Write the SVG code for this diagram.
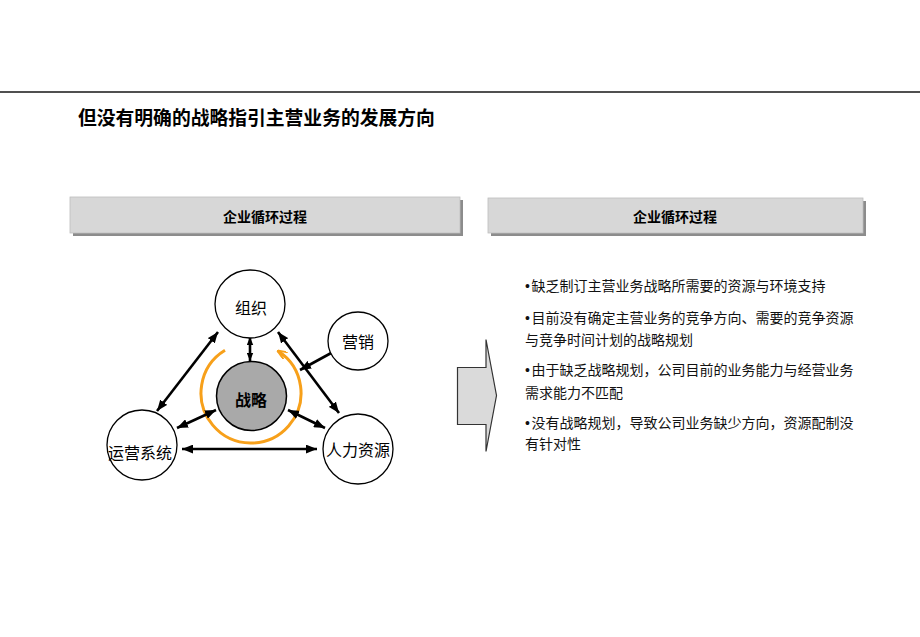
<svg xmlns="http://www.w3.org/2000/svg" width="920" height="637" viewBox="0 0 920 637">
<style>
.cjk{font-family:"Noto Sans CJK SC","Liberation Sans",sans-serif;}
.title{font-size:18.8px;font-weight:bold;fill:#000;}
.hdr{font-size:14px;font-weight:bold;fill:#000;text-anchor:middle;}
.lbl{font-size:16px;fill:#000;text-anchor:middle;}
.bul{font-size:14px;fill:#111;}
.dot{font-family:"Liberation Sans",sans-serif;}
.node{fill:#fff;stroke:#000;stroke-width:1.3;}
.arr{stroke:#000;stroke-width:2.6;fill:none;}
</style>
<defs>
<marker id="ah" viewBox="0 0 10 8" refX="10" refY="4" markerWidth="11" markerHeight="9" markerUnits="userSpaceOnUse" orient="auto-start-reverse">
<path d="M0,0 L10,4 L0,8 Z" fill="#000"/>
</marker>
<marker id="ahs" viewBox="0 0 10 8" refX="10" refY="4" markerWidth="8" markerHeight="7" markerUnits="userSpaceOnUse" orient="auto-start-reverse">
<path d="M0,0 L10,4 L0,8 Z" fill="#000"/>
</marker>
<marker id="aho" viewBox="0 0 10 8" refX="9" refY="4" markerWidth="10" markerHeight="8" markerUnits="userSpaceOnUse" orient="auto">
<path d="M0,0 L10,4 L0,8" fill="none" stroke="#f7a01a" stroke-width="2"/>
</marker>
</defs>
<rect width="920" height="637" fill="#fff"/>
<line x1="0" y1="92" x2="920" y2="92" stroke="#505050" stroke-width="2"/>
<text class="cjk title" x="78" y="125">但没有明确的战略指引主营业务的发展方向</text>

<g id="header-left">
<rect x="73" y="200" width="390" height="36" fill="#8c8c8c"/>
<rect x="70" y="197" width="390" height="36" fill="#d7d7d7" stroke="#bdbdbd" stroke-width="0.8"/>
<text class="cjk hdr" x="265" y="222">企业循环过程</text>
</g>
<g id="header-right">
<rect x="491" y="201" width="375" height="35" fill="#8c8c8c"/>
<rect x="488" y="198" width="375" height="35" fill="#d7d7d7" stroke="#bdbdbd" stroke-width="0.8"/>
<text class="cjk hdr" x="675" y="222">企业循环过程</text>
</g>

<g id="cycle">
<path d="M225,350.3 A50,50 0 1 0 278,350.9" fill="none" stroke="#f7a01a" stroke-width="3" marker-end="url(#aho)"/>
</g>

<g id="connectors">
<line class="arr" x1="218" y1="332" x2="157" y2="411" marker-start="url(#ah)" marker-end="url(#ah)"/>
<line class="arr" x1="250" y1="337" x2="250" y2="361" stroke-width="2" marker-start="url(#ahs)" marker-end="url(#ahs)"/>
<line class="arr" x1="278" y1="332" x2="339" y2="413" marker-start="url(#ah)" marker-end="url(#ah)"/>
<line class="arr" x1="333" y1="352" x2="300" y2="370" marker-end="url(#ah)"/>
<line class="arr" x1="216" y1="410" x2="177" y2="428" marker-start="url(#ah)" marker-end="url(#ah)"/>
<line class="arr" x1="288" y1="410" x2="325" y2="428" marker-start="url(#ah)" marker-end="url(#ah)"/>
<line class="arr" x1="182" y1="449" x2="317" y2="449" marker-start="url(#ah)" marker-end="url(#ah)"/>
</g>

<g id="node-zuzhi">
<ellipse class="node" cx="250" cy="304" rx="35" ry="34"/>
<text class="cjk lbl" x="251" y="314">组织</text>
</g>
<g id="node-yingxiao">
<ellipse class="node" cx="358" cy="341" rx="30" ry="29"/>
<text class="cjk lbl" x="358" y="347.5">营销</text>
</g>
<g id="node-zhanlue">
<ellipse cx="251.5" cy="396" rx="35" ry="34.5" fill="#a9a9a9" stroke="#000" stroke-width="1.5"/>
<text class="cjk lbl" x="251" y="406" font-weight="bold">战略</text>
</g>
<g id="node-yunying">
<circle class="node" cx="142" cy="445" r="35"/>
<text class="cjk lbl" x="140" y="458.5">运营系统</text>
</g>
<g id="node-renli">
<circle class="node" cx="358" cy="449" r="35"/>
<text class="cjk lbl" x="358" y="456">人力资源</text>
</g>

<g id="block-arrow">
<polygon points="457.5,367.5 486,367.5 486,339.5 496.5,395.5 486,451.5 486,424.5 457.5,424.5" fill="#dadada" stroke="#333" stroke-width="1.2"/>
</g>

<g id="bullets">
<text class="cjk bul" x="525" y="291"><tspan class="dot">•</tspan><tspan dx="1.5">缺乏制订主营业务战略所需要的资源与环境支持</tspan></text>
<text class="cjk bul" x="525" y="323"><tspan class="dot">•</tspan><tspan dx="1.5">目前没有确定主营业务的竞争方向、需要的竞争资源</tspan></text>
<text class="cjk bul" x="525" y="344.5">与竞争时间计划的战略规划</text>
<text class="cjk bul" x="525" y="375"><tspan class="dot">•</tspan><tspan dx="1.5">由于缺乏战略规划，公司目前的业务能力与经营业务</tspan></text>
<text class="cjk bul" x="525" y="398">需求能力不匹配</text>
<text class="cjk bul" x="525" y="428"><tspan class="dot">•</tspan><tspan dx="1.5">没有战略规划，导致公司业务缺少方向，资源配制没</tspan></text>
<text class="cjk bul" x="525" y="448.5">有针对性</text>
</g>
</svg>
